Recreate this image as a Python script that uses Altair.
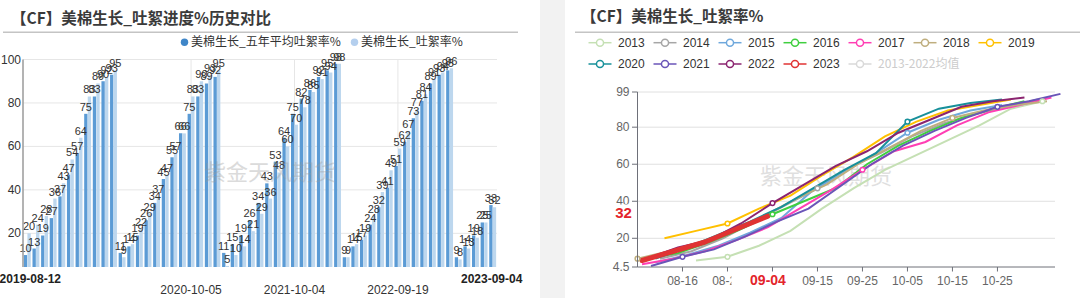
import altair as alt
import pandas as pd

CJK = "Noto Sans CJK SC"
NUM = "Liberation Sans"

# ================= left chart data (weekly, five-year average vs actual) =================
season_start = ["2019-08-12", "2020-08-10", "2021-08-09", "2022-08-08", "2023-08-07"]
avg_2019 = [10, 13, 19, 27, 37, 47, 57, 75, 83, 90, 93]
act_2019 = [20, 24, 28, 36, 43, 54, 64, 83, 89, 92, 95]
avg_2020 = [11, 14, 19, 26, 34, 45, 55, 66, 75, 83, 89, 92]
act_2020 = [9, 15, 22, 29, 37, 47, 57, 66, 83, 90, 93, 95]
avg_2021 = [11, 15, 19, 26, 34, 43, 53, 64, 75, 82, 86, 92, 95, 98]
act_2021 = [5, 10, 14, 21, 29, 36, 48, 60, 70, 78, 85, 91, 94, 98]
avg_2022 = [9, 14, 17, 24, 32, 41, 51, 62, 73, 81, 89, 93, 95]
act_2022 = [9, 15, 19, 28, 39, 49, 59, 67, 77, 84, 91, 94, 96]
avg_2023 = [9, 14, 19, 25, 33]
act_2023 = [8, 13, 18, 25, 32]
left_series = ["美棉生长_五年平均吐絮率%", "美棉生长_吐絮率%"]
left_colors = ["#5b9bd5", "#bdd7ee"]
left_legend_colors = ["#3f86c8", "#b4cfee"]
left_yticks = [20, 40, 60, 80, 100]
left_xlabels = ["2019-08-12", "2020-10-05", "2021-10-04", "2022-09-19", "2023-09-04"]

# ================= right chart data (boll opening %, by year) =================
years = ["2013", "2014", "2015", "2016", "2017", "2018", "2019", "2020", "2021", "2022", "2023"]
avg_name = "2013-2022均值"
dates_2013 = ["2013-08-19", "2013-08-26", "2013-09-02", "2013-09-09", "2013-09-16",
              "2013-09-23", "2013-09-30", "2013-10-21", "2013-10-28", "2013-11-04"]
rate_2013 = [8, 10, 16, 24, 36, 47, 57, 81, 90, 94]
start_2014 = "2014-08-11"
rate_2014 = [9, 13, 20, 29, 38, 47, 58, 66, 75, 82, 87, 91, 95]
start_2015 = "2015-08-10"
rate_2015 = [7, 11, 16, 23, 31, 46, 56, 66, 77, 84, 89, 92]
start_2016 = "2016-08-08"
rate_2016 = [9, 12, 18, 25, 33, 40, 47, 60, 70, 78, 85, 90, 94]
start_2017 = "2017-08-07"
rate_2017 = [6, 9, 13, 19, 26, 36, 46, 57, 67, 72, 81, 88, 92, 96]
start_2018 = "2018-08-06"
rate_2018 = [9, 13, 18, 24, 32, 41, 49, 60, 69, 78, 85, 89, 92, 94]
start_2019 = "2019-08-12"
rate_2019 = [20, 24, 28, 36, 43, 54, 64, 75, 83, 89, 92, 95]
start_2020 = "2020-08-10"
rate_2020 = [9, 15, 22, 29, 37, 47, 57, 66, 83, 90, 93, 95]
start_2021 = "2021-08-09"
rate_2021 = [5, 10, 14, 21, 29, 36, 48, 60, 70, 78, 85, 91, 94, 98]
start_2022 = "2022-08-08"
rate_2022 = [9, 15, 19, 28, 39, 49, 59, 67, 77, 84, 91, 94, 96]
start_2023 = "2023-08-07"
rate_2023 = [8, 13, 18, 25, 32]
year_colors = ["#c5e0b4", "#a6a6a6", "#6fa8dc", "#3fcf3f", "#ff3fb4", "#bfae7e",
               "#ffc000", "#17909a", "#6a55b8", "#8b2470", "#e03333", "#d9d9d9"]
right_yticks = [4.5, 20, 40, 60, 80, 99]
right_xticks = ["08-16", "08-26", "09-15", "09-25", "10-05", "10-15", "10-25"]
right_xtick_marks = ["08-16", "08-26", "09-05", "09-15", "09-25", "10-05", "10-15", "10-25"]

# ================= tables =================
seasons = [(season_start[0], avg_2019, act_2019), (season_start[1], avg_2020, act_2020),
           (season_start[2], avg_2021, act_2021), (season_start[3], avg_2022, act_2022),
           (season_start[4], avg_2023, act_2023)]
cats, lrows = [], []
for start, av, ac in seasons:
    for d, a, b in zip(pd.date_range(start, periods=len(av), freq="7D"), av, ac):
        ds = d.strftime("%Y-%m-%d")
        cats.append(ds)
        lrows.append({"date": ds, "series": left_series[0], "value": a})
        lrows.append({"date": ds, "series": left_series[1], "value": b})
left_df = pd.DataFrame(lrows)

series_def = [("2013", pd.to_datetime(dates_2013), rate_2013)]
for y, st, vals in [("2014", start_2014, rate_2014), ("2015", start_2015, rate_2015),
                    ("2016", start_2016, rate_2016), ("2017", start_2017, rate_2017),
                    ("2018", start_2018, rate_2018), ("2019", start_2019, rate_2019),
                    ("2020", start_2020, rate_2020), ("2021", start_2021, rate_2021),
                    ("2022", start_2022, rate_2022), ("2023", start_2023, rate_2023)]:
    series_def.append((y, pd.date_range(st, periods=len(vals), freq="7D"), vals))
rrows = []
for y, ds, vals in series_def:
    for d, v in zip(ds, vals):
        rrows.append({"year": y, "date": "2000-" + d.strftime("%m-%d"), "value": v})
right_df = pd.DataFrame(rrows)
base_day = pd.Timestamp("2000-08-06")
right_df["mark"] = ((pd.to_datetime(right_df["date"]) - base_day).dt.days % 10 == 0)
cur = right_df[right_df.year == "2023"].iloc[-1]

one = pd.DataFrame({"k": [0]})

# ================= left panel =================
lxs = alt.Scale(domain=cats, range=[23, 497], paddingInner=0.2, paddingOuter=0.1)
lys = alt.Scale(domain=[4.5, 100], range=[267, 59.5], nice=False, zero=False)
lx = alt.X("date:O", scale=lxs, axis=None)
lxo = alt.XOffset("series:N", scale=alt.Scale(domain=left_series, paddingInner=0.06))
ly = alt.Y("value:Q", scale=lys, axis=None)

lyt = pd.DataFrame({"v": left_yticks})
l_grid = alt.Chart(lyt).mark_rule(color="#e6e6e6", strokeWidth=1).encode(
    y=alt.Y("v:Q", scale=lys, axis=None), x=alt.value(23), x2=alt.value(497))
l_vgrid = alt.Chart(pd.DataFrame({"date": left_xlabels[1:4]})).mark_rule(
    color="#e6e6e6", strokeWidth=1).encode(x=lx, y=alt.value(59.5), y2=alt.value(267))
bars = alt.Chart(left_df).mark_bar().encode(
    x=lx, xOffset=lxo, y=ly, y2=alt.datum(4.5),
    color=alt.Color("series:N", scale=alt.Scale(domain=left_series, range=left_colors), legend=None))
blabels = alt.Chart(left_df).mark_text(baseline="bottom", dy=-1, fontSize=11, font=NUM,
                                       color="#333333").encode(
    x=lx, xOffset=lxo, y=ly, text="value:Q")
l_ylab = alt.Chart(lyt).mark_text(align="right", baseline="middle", fontSize=12, font=NUM,
                                  color="#333333").encode(
    y=alt.Y("v:Q", scale=lys, axis=None), x=alt.value(21), text="v:N")
l_yaxis = alt.Chart(one).mark_rule(color="#9a9a9a", strokeWidth=1.5).encode(
    x=alt.value(23), y=alt.value(59.5), y2=alt.value(267))
l_xl_first = alt.Chart(pd.DataFrame({"date": left_xlabels[:1]})).mark_text(
    fontSize=12, font=NUM, fontWeight="bold", color="#222222", dx=3).encode(
    x=lx, y=alt.value(279), text="date:N")
l_xl_last = alt.Chart(pd.DataFrame({"date": left_xlabels[-1:]})).mark_text(
    fontSize=12, font=NUM, fontWeight="bold", color="#222222", dx=-1).encode(
    x=lx, y=alt.value(279), text="date:N")
l_xl_mid = alt.Chart(pd.DataFrame({"date": left_xlabels[1:4]})).mark_text(
    fontSize=12, font=NUM, color="#333333").encode(
    x=lx, y=alt.value(290), text="date:N")
l_wm = alt.Chart(pd.DataFrame({"t": ["紫金天风期货"]})).mark_text(
    fontSize=22, font=CJK, color="#999999", opacity=0.35).encode(
    x=alt.value(270), y=alt.value(173), text="t:N")
left = alt.layer(l_grid, l_vgrid, bars, blabels, l_ylab, l_yaxis,
                 l_xl_first, l_xl_last, l_xl_mid, l_wm)

# ================= right panel =================
rxs = alt.Scale(type="utc",
                domain=[alt.DateTime(year=2000, month=8, date=6, utc=True),
                        alt.DateTime(year=2000, month=11, date=6, hours=19, utc=True)],
                range=[637.5, 1055])
rys = alt.Scale(domain=[4.5, 99], range=[267, 92], nice=False, zero=False)
rx = alt.X("date:T", scale=rxs, axis=None)
ry = alt.Y("value:Q", scale=rys, axis=None)
rcol = alt.Color("year:N", scale=alt.Scale(domain=years + [avg_name], range=year_colors), legend=None)

ryt = pd.DataFrame({"v": right_yticks})
rxt = pd.DataFrame({"date": ["2000-" + t for t in right_xticks], "lab": right_xticks})
rxm = pd.DataFrame({"date": ["2000-" + t for t in right_xtick_marks]})
r_grid = alt.Chart(ryt[ryt.v > right_yticks[0]]).mark_rule(color="#e0e0e0").encode(
    y=alt.Y("v:Q", scale=rys, axis=None), x=alt.value(637.5), x2=alt.value(1055))
r_wm = alt.Chart(pd.DataFrame({"t": ["紫金天风期货"]})).mark_text(
    fontSize=22, font=CJK, color="#999999", opacity=0.3).encode(
    x=alt.value(826), y=alt.value(177), text="t:N")
r_lines = alt.Chart(right_df[right_df.year != "2023"]).mark_line(strokeWidth=2).encode(
    x=rx, y=ry, color=rcol)
r_2023 = alt.Chart(right_df[right_df.year == "2023"]).mark_line(
    strokeWidth=5, strokeCap="round", strokeJoin="round").encode(x=rx, y=ry, color=rcol)
r_marks = alt.Chart(right_df[right_df.mark & (right_df.year != "2023")]).mark_point(
    shape="circle", filled=False, fill="white", size=22, strokeWidth=1.5, opacity=1).encode(
    x=rx, y=ry, color=rcol)
r_yaxis = alt.Chart(one).mark_rule(color="#6e7079").encode(
    x=alt.value(637.5), y=alt.value(92), y2=alt.value(267))
r_ytick = alt.Chart(ryt).mark_rule(color="#6e7079").encode(
    y=alt.Y("v:Q", scale=rys, axis=None), x=alt.value(632), x2=alt.value(637.5))
r_ylab = alt.Chart(ryt).mark_text(align="right", baseline="middle", fontSize=12, font=NUM,
                                  color="#666666").encode(
    y=alt.Y("v:Q", scale=rys, axis=None), x=alt.value(629.5), text="v:N")
r_xaxis = alt.Chart(one).mark_rule(color="#6e7079").encode(
    y=alt.value(267), x=alt.value(637.5), x2=alt.value(1055))
r_xtick = alt.Chart(rxm).mark_rule(color="#6e7079").encode(
    x=alt.X("date:T", scale=rxs, axis=None), y=alt.value(267), y2=alt.value(271.5))
r_xlab = alt.Chart(rxt).mark_text(baseline="middle", fontSize=12, font=NUM, color="#666666").encode(
    x=alt.X("date:T", scale=rxs, axis=None), y=alt.value(280.5), text="lab:N")
r_box1 = alt.Chart(one).mark_rect(color="white").encode(
    x=alt.value(731.5), x2=alt.value(801), y=alt.value(272.5), y2=alt.value(291))
r_cur_x = alt.Chart(pd.DataFrame({"date": [cur["date"]], "lab": [cur["date"][5:]]})).mark_text(
    baseline="middle", fontSize=14, font=NUM, fontWeight="bold", color="#e3242b").encode(
    x=alt.X("date:T", scale=rxs, axis=None), y=alt.value(281), text="lab:N")
r_box2 = alt.Chart(one).mark_rect(color="white").encode(
    x=alt.value(611), x2=alt.value(636), y=alt.value(204.5), y2=alt.value(221))
r_cur_y = alt.Chart(pd.DataFrame({"lab": [str(int(cur["value"]))]})).mark_text(
    baseline="middle", fontSize=15, font=NUM, fontWeight="bold", color="#e3242b").encode(
    x=alt.value(623.5), y=alt.value(212.5), text="lab:N")
right = alt.layer(r_grid, r_wm, r_lines, r_2023, r_marks, r_yaxis, r_ytick, r_ylab,
                  r_xaxis, r_xtick, r_xlab, r_box1, r_cur_x, r_box2, r_cur_y)

# ================= right legend (ECharts style: line + hollow circle) =================
leg_names = years + [avg_name]
leg = pd.DataFrame({"year": leg_names, "i": range(len(leg_names))})
leg["sx"] = 600 + 65 * (leg.i % 7)
leg["sy"] = 42.7 + 21.3 * (leg.i // 7)
leg["x1"] = leg.sx - 11.5
leg["x2"] = leg.sx + 11.5
leg["tx"] = leg.sx + 18
lcol = alt.Color("year:N", scale=alt.Scale(domain=years + [avg_name], range=year_colors), legend=None)
leg_line = alt.Chart(leg).mark_rule(strokeWidth=1.5).encode(
    x=alt.X("x1:Q", scale=None), x2="x2:Q", y=alt.Y("sy:Q", scale=None), color=lcol)
leg_pt = alt.Chart(leg).mark_point(shape="circle", filled=False, fill="white", size=50,
                                   strokeWidth=1.5, opacity=1).encode(
    x=alt.X("sx:Q", scale=None), y=alt.Y("sy:Q", scale=None), color=lcol)
leg_txt = alt.Chart(leg[leg.year != avg_name]).mark_text(
    align="left", baseline="middle", fontSize=12, font=NUM, color="#333333").encode(
    x=alt.X("tx:Q", scale=None), y=alt.Y("sy:Q", scale=None), text="year:N")
leg_txt_avg = alt.Chart(leg[leg.year == avg_name]).mark_text(
    align="left", baseline="middle", fontSize=12, font=CJK, color="#cccccc").encode(
    x=alt.X("tx:Q", scale=None), y=alt.Y("sy:Q", scale=None), text="year:N")
legend_r = alt.layer(leg_line, leg_pt, leg_txt, leg_txt_avg)

# ================= decorations: titles, rules, separator band, left legend =================
band = alt.Chart(one).mark_rect(color="#f2f2f2").encode(
    x=alt.value(540), x2=alt.value(565), y=alt.value(0), y2=alt.value(298))
titles = alt.Chart(pd.DataFrame({"t": ["【CF】美棉生长_吐絮进度%历史对比", "【CF】美棉生长_吐絮率%"],
                                 "x": [11, 581], "y": [18.5, 17]})).mark_text(
    align="left", baseline="middle", fontSize=15.5, font=CJK, fontWeight="bold",
    color="#3a3a3a").encode(x=alt.X("x:Q", scale=None), y=alt.Y("y:Q", scale=None), text="t:N")
underline = alt.Chart(pd.DataFrame({"x1": [3, 575], "x2": [518, 1080]})).mark_rule(
    color="#c4c4c4", strokeWidth=1.5).encode(
    x=alt.X("x1:Q", scale=None), x2="x2:Q", y=alt.value(32.3))
lleg = pd.DataFrame({"name": left_series, "c": left_legend_colors, "sx": [184.5, 354.5]})
lleg["tx"] = lleg.sx + 6.5
lleg_pt = alt.Chart(lleg).mark_point(shape="circle", filled=True, size=55, opacity=1).encode(
    x=alt.X("sx:Q", scale=None), y=alt.value(42.3), color=alt.Color("c:N", scale=None))
lleg_txt = alt.Chart(lleg).mark_text(align="left", baseline="middle", fontSize=12, font=CJK,
                                     color="#333333").encode(
    x=alt.X("tx:Q", scale=None), y=alt.value(42.3), text="name:N")
deco = alt.layer(titles, underline, lleg_pt, lleg_txt)

chart = alt.layer(band, left, right, legend_r, deco).resolve_scale(
    x="independent", y="independent", color="independent"
).properties(
    width=1080, height=298, padding=0, autosize=alt.AutoSizeParams(type="none"),
    background="white"
).configure_view(strokeWidth=0)

chart.save("out.html", embed_options={"renderer": "svg", "actions": False})
